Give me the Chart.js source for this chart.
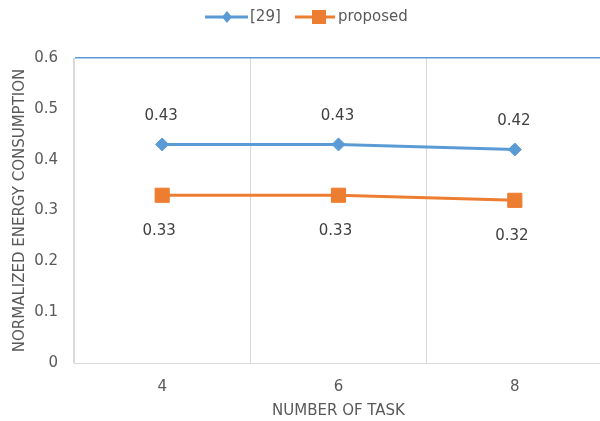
<!DOCTYPE html>
<html>
<head>
<meta charset="utf-8">
<script src="https://cdn.jsdelivr.net/npm/chart.js@4"></script>
<style>
  html, body { margin: 0; padding: 0; background: #fff; overflow: hidden; }
  canvas { display: block; }
</style>
</head>
<body>
<canvas id="c" width="614" height="421"></canvas>
<script>
const categories = ['4', '6', '8'];
const seriesRef29 = [0.43, 0.43, 0.42];
const seriesProposed = [0.33, 0.33, 0.32];
const seriesNames = ['[29]', 'proposed'];
const yTicks = [0, 0.1, 0.2, 0.3, 0.4, 0.5, 0.6];

const BLUE = '#5B9BD5';
const ORANGE = '#ED7D31';
const GRID = '#D9D9D9';
const TEXT = '#595959';
const FONT = "'DejaVu Sans', sans-serif";

const labelPlugin = {
  id: 'labels',
  afterDatasetsDraw(chart) {
    const ctx = chart.ctx;
    ctx.save();
    ctx.font = '15px ' + FONT;
    ctx.fillStyle = '#404040';
    ctx.textAlign = 'center';
    ctx.textBaseline = 'middle';
    chart.data.datasets.forEach((ds, i) => {
      const meta = chart.getDatasetMeta(i);
      meta.data.forEach((pt, j) => {
        const v = ds.data[j];
        const dy = i === 0 ? -28 : 36;
        const dx = i === 0 ? -1 : -3;
        ctx.fillText(v.toFixed(2), pt.x + dx, pt.y + dy);
      });
    });
    ctx.restore();
  }
};

const legendPlugin = {
  id: 'customLegend',
  afterDraw(chart) {
    const ctx = chart.ctx;
    const y = 17;
    ctx.save();
    ctx.strokeStyle = BLUE; ctx.lineWidth = 3;
    ctx.beginPath(); ctx.moveTo(205, y); ctx.lineTo(248, y); ctx.stroke();
    ctx.fillStyle = BLUE;
    ctx.beginPath();
    ctx.moveTo(227, y - 6); ctx.lineTo(232, y); ctx.lineTo(227, y + 6); ctx.lineTo(222, y);
    ctx.closePath(); ctx.fill();
    ctx.strokeStyle = ORANGE;
    ctx.beginPath(); ctx.moveTo(295, y); ctx.lineTo(335, y); ctx.stroke();
    ctx.fillStyle = ORANGE;
    ctx.fillRect(312, y - 7, 14, 14);
    ctx.font = '15px ' + FONT;
    ctx.fillStyle = TEXT;
    ctx.textAlign = 'left';
    ctx.textBaseline = 'middle';
    ctx.fillText(seriesNames[0], 250, y);
    ctx.fillText(seriesNames[1], 338, y);
    ctx.restore();
  }
};

new Chart(document.getElementById('c'), {
  type: 'line',
  data: {
    labels: categories,
    datasets: [
      {
        label: seriesNames[0],
        data: seriesRef29,
        borderColor: BLUE,
        backgroundColor: BLUE,
        borderWidth: 3,
        pointStyle: 'rectRot',
        pointRadius: 6.5,
        pointBorderWidth: 1,
        tension: 0
      },
      {
        label: seriesNames[1],
        data: seriesProposed,
        borderColor: ORANGE,
        backgroundColor: ORANGE,
        borderWidth: 3,
        pointStyle: 'rect',
        pointRadius: 10,
        pointBorderWidth: 1,
        tension: 0
      }
    ]
  },
  options: {
    responsive: false,
    animation: false,
    devicePixelRatio: 1,
    layout: { padding: { top: 58, left: 0, right: 0, bottom: 0 } },
    plugins: {
      legend: { display: false },
      tooltip: { enabled: false }
    },
    scales: {
      x: {
        offset: true,
        grid: { offset: true, color: GRID, lineWidth: 1, drawTicks: false },
        border: { color: GRID, width: 1 },
        ticks: { color: TEXT, font: { family: FONT, size: 15 }, padding: 15 },
        title: {
          display: true,
          text: 'NUMBER OF TASK',
          color: TEXT,
          font: { family: FONT, size: 15 },
          padding: { top: 0, bottom: 1 }
        },
        afterFit(scale) { scale.height = 58; }
      },
      y: {
        min: 0,
        max: 0.6,
        afterBuildTicks(scale) { scale.ticks = yTicks.map(v => ({ value: v })); },
        grid: {
          drawTicks: false,
          color: ctx => (ctx.tick && Math.abs(ctx.tick.value - 0.6) < 1e-9) ? BLUE : 'rgba(0,0,0,0)',
          lineWidth: 1.5
        },
        border: { color: GRID, width: 1 },
        ticks: {
          color: TEXT,
          font: { family: FONT, size: 15 },
          padding: 16,
          callback: v => String(+v.toFixed(1))
        },
        title: {
          display: true,
          text: 'NORMALIZED ENERGY CONSUMPTION',
          color: TEXT,
          font: { family: FONT, size: 15 },
          padding: { top: 11, bottom: 0 }
        },
        afterFit(scale) { scale.width = 74; }
      }
    }
  },
  plugins: [labelPlugin, legendPlugin]
});
</script>
</body>
</html>
